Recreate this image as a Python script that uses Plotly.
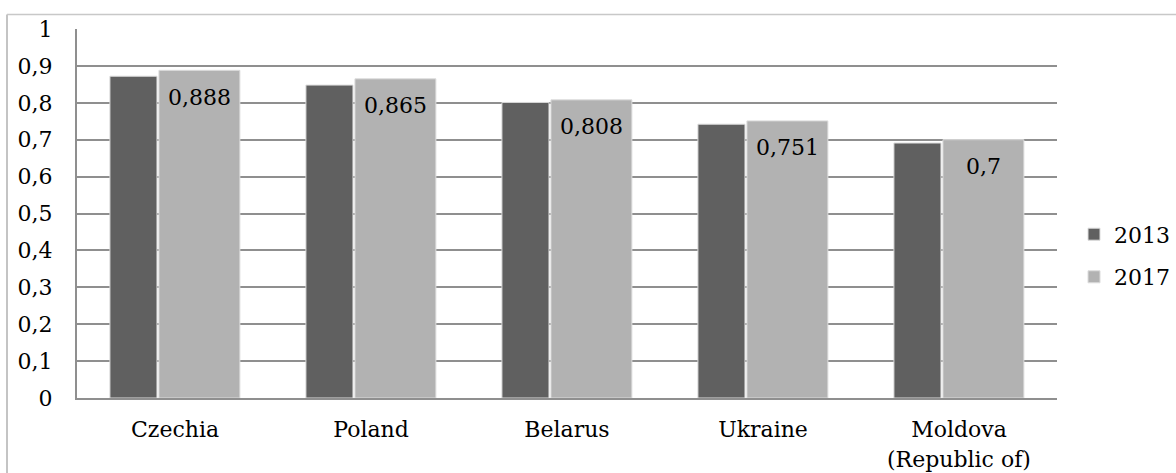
import plotly.graph_objects as go

# Index values by country, two survey years
countries = ["Czechia", "Poland", "Belarus", "Ukraine", "Moldova (Republic of)"]
tick_labels = ["Czechia", "Poland", "Belarus", "Ukraine", "Moldova"]
values_2013 = [0.872, 0.848, 0.801, 0.742, 0.691]
values_2017 = [0.888, 0.865, 0.808, 0.751, 0.7]
label_2017 = ["0,888", "0,865", "0,808", "0,751", "0,7"]
y_ticks = [0, 0.1, 0.2, 0.3, 0.4, 0.5, 0.6, 0.7, 0.8, 0.9, 1]

FONT = "DejaVu Serif"
FS = 22
GRID = "#8f8f8f"

W, H = 1176, 473
ML, MR, MT, MB = 77, 119, 28.5, 74.5

# bar placement within each category slot (category units)
off_a, w_a = -0.332, 0.240
off_b, w_b = -0.082, 0.413

fig = go.Figure()
fig.add_trace(go.Bar(
    x=countries, y=values_2013, name="2013",
    offset=off_a, width=w_a,
    marker=dict(color="#606060", line=dict(color="#dcdcdc", width=1)),
    legendgroup="a",
))
fig.add_trace(go.Bar(
    x=countries, y=values_2017, name="2017",
    offset=off_b, width=w_b,
    marker=dict(color="#b2b2b2", line=dict(color="#dcdcdc", width=1)),
    legendgroup="b",
))

annotations = []
for i, (v, t) in enumerate(zip(values_2017, label_2017)):
    annotations.append(dict(
        x=i + off_b + w_b / 2, y=v, xref="x", yref="y",
        text=t, showarrow=False, yanchor="middle", yshift=-27,
        font=dict(family=FONT, size=FS, color="black"),
    ))

# second line of the last category label
annotations.append(dict(
    x=len(countries) - 1, y=0, xref="x", yref="paper",
    text="(Republic of)", showarrow=False, yanchor="middle", yshift=-61,
    font=dict(family=FONT, size=FS, color="black"),
))

pw, ph = W - ML - MR, H - MT - MB
fx0 = (7 - ML) / pw
fy0 = 1 + (MT - 14) / ph

fig.update_layout(
    width=W, height=H,
    margin=dict(l=ML, r=MR, t=MT, b=MB, pad=0, autoexpand=False),
    paper_bgcolor="white", plot_bgcolor="white",
    separators=", ",
    barmode="overlay",
    font=dict(family=FONT, size=FS, color="black"),
    showlegend=True,
    legend=dict(
        x=(1074 - ML) / pw, y=(398.5 - 256) / ph, xanchor="left", yanchor="middle",
        traceorder="grouped", tracegroupgap=11,
        font=dict(family=FONT, size=FS, color="black"),
        bgcolor="rgba(0,0,0,0)",
    ),
    annotations=annotations,
    shapes=[
        dict(type="line", xref="paper", yref="paper",
             x0=fx0, x1=fx0, y0=fy0, y1=-0.5,
             line=dict(color="#b0b0b0", width=1.5)),
        dict(type="line", xref="paper", yref="paper",
             x0=fx0, x1=1.3, y0=fy0, y1=fy0,
             line=dict(color="#c8c8c8", width=1.5)),
    ],
)

fig.update_xaxes(
    type="category", categoryorder="array", categoryarray=countries,
    tickvals=countries, ticktext=tick_labels,
    range=[-0.5, len(countries) - 0.5],
    showline=True, linecolor=GRID, linewidth=2,
    showgrid=False, ticks="", ticklabelstandoff=11,
    tickfont=dict(family=FONT, size=FS, color="black"),
)
fig.update_yaxes(
    range=[0, 1], tickvals=y_ticks,
    showline=True, linecolor=GRID, linewidth=2,
    showgrid=True, gridcolor=GRID, gridwidth=2,
    zeroline=False, ticks="", ticklabelstandoff=18,
    tickfont=dict(family=FONT, size=FS, color="black"),
)

fig.write_html("out.html")
